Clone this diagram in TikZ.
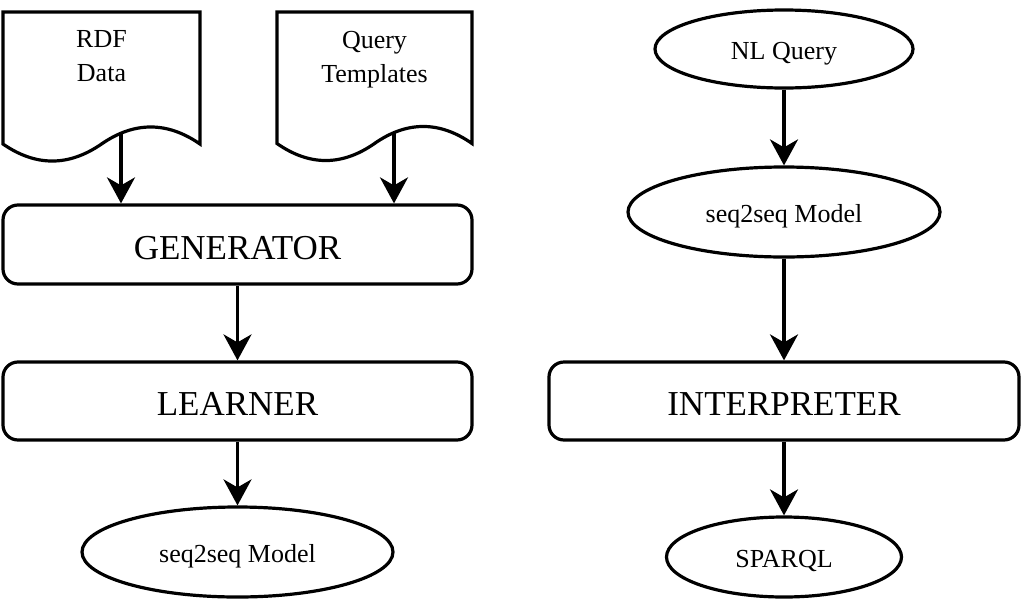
\documentclass[tikz,border=0pt]{standalone}
\usepackage{fontspec}
\setmainfont{Liberation Serif}
\usetikzlibrary{shapes.geometric,arrows.meta}
\newcommand\docshape[4]{%
  \pgfmathsetmacro\docW{(#2-#1)/6}%
  \pgfmathsetmacro\docM{(#1+#2)/2}%
  \draw[lw] (#1,#3) -- (#2,#3) -- (#2,#4)
    .. controls (#2-\docW,#4-22.7) and (\docM+\docW,#4-22.7) .. (\docM,#4)
    .. controls (\docM-\docW,#4+22.7) and (#1+\docW,#4+22.7) .. (#1,#4) -- cycle;}
\begin{document}
\begin{tikzpicture}[x=1pt,y=-1pt,
  lw/.style={line width=3.2pt},
  box/.style={draw, lw, rounded corners=15pt, minimum width=469pt, minimum height=78pt,
    inner sep=0pt, font=\fontsize{35}{42}\selectfont, text height=30pt, text depth=1pt},
  oval/.style={draw, lw, ellipse, inner sep=0pt, font=\fontsize{26}{31}\selectfont,
    text height=21pt, text depth=1pt},
  doctext/.style={align=center, inner sep=0pt, font=\fontsize{26}{34}\selectfont},
  flow/.style={lw, -{Stealth[length=26pt,width=28pt,inset=8pt]}},
]
\useasboundingbox (0,0) rectangle (1021,606);

% documents
\docshape{3}{200}{12}{144}
\docshape{277}{472}{12}{143.5}
\node[doctext] (rdf) at (101.5,56.5) {RDF\\Data};
\node[doctext] (qt) at (374.5,59.3) {Query\\Templates};
\coordinate (rdfout) at (121,133);
\coordinate (qtout) at (394,133);

% left column
\node[box, minimum height=79pt] (gen) at (237.5,244.5) {GENERATOR};
\node[box] (learn) at (237.5,401) {LEARNER};
\node[oval, minimum width=311pt, minimum height=90pt] (s2sL) at (237.5,552) {seq2seq Model};

% right column
\node[oval, minimum width=258pt, minimum height=78pt] (nlq) at (784,49) {NL Query};
\node[oval, minimum width=312pt, minimum height=90pt] (s2sR) at (784,212) {seq2seq Model};
\node[box, minimum width=470pt] (interp) at (784,401) {INTERPRETER};
\node[oval, minimum width=235pt, minimum height=80pt] (sparql) at (784,557) {SPARQL};

% connectors
\draw[flow] (rdfout) -- (rdfout |- gen.north);
\draw[flow] (qtout) -- (qtout |- gen.north);
\draw[flow] (gen) -- (learn);
\draw[flow] (learn) -- (s2sL);
\draw[flow] (nlq) -- (s2sR);
\draw[flow] (s2sR) -- (interp);
\draw[flow] (interp) -- (sparql);
\end{tikzpicture}
\end{document}
